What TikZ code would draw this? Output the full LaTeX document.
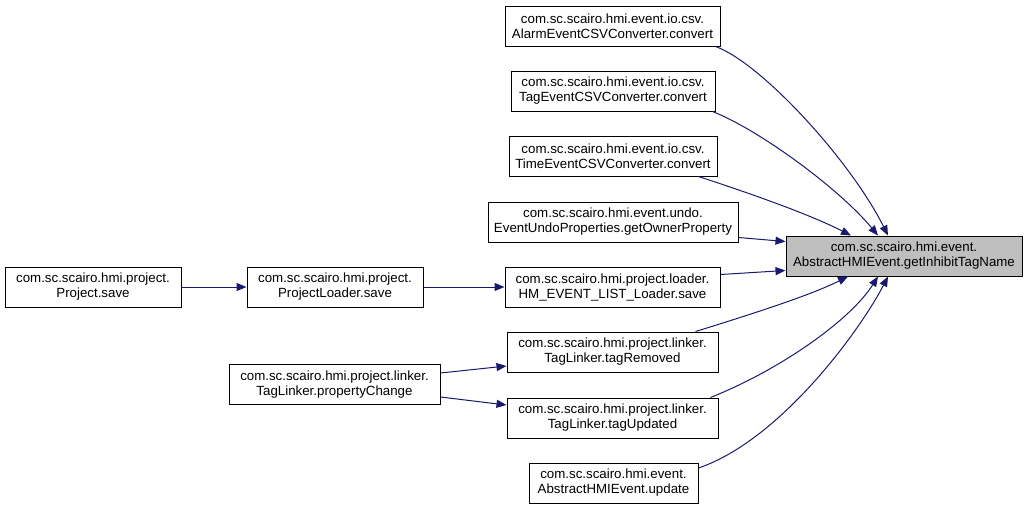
\documentclass[tikz,border=0pt]{standalone}
\usepackage{fontspec}
\setmainfont{Liberation Sans}
\usetikzlibrary{arrows.meta}
\definecolor{edgeblue}{HTML}{191970}
\definecolor{targetgray}{HTML}{BFBFBF}
\tikzset{
  fnbox/.style={draw=black, line width=1pt, fill=white, align=center, inner sep=0pt,
    minimum height=40pt, font=\fontsize{13.3}{15}\selectfont},
  focusbox/.style={fnbox, fill=targetgray},
  calledge/.style={draw=edgeblue, line width=1pt, -{Triangle[length=10pt,width=8pt]}}
}
\begin{document}
\begin{tikzpicture}[x=1pt,y=-1pt]
\useasboundingbox (0,0) rectangle (1029,509);
\node[focusbox, minimum width=236pt] (target) at (904,256) {com.sc.scairo.hmi.event.\\AbstractHMIEvent.getInhibitTagName};
\node[fnbox, minimum width=215pt] (alarm) at (612.5,26) {com.sc.scairo.hmi.event.io.csv.\\AlarmEventCSVConverter.convert};
\node[fnbox, minimum width=204pt] (tagcsv) at (613,91) {com.sc.scairo.hmi.event.io.csv.\\TagEventCSVConverter.convert};
\node[fnbox, minimum width=208pt] (timecsv) at (613,156) {com.sc.scairo.hmi.event.io.csv.\\TimeEventCSVConverter.convert};
\node[fnbox, minimum width=250pt] (undo) at (613,222) {com.sc.scairo.hmi.event.undo.\\EventUndoProperties.getOwnerProperty};
\node[fnbox, minimum width=215pt] (hm) at (612.5,287) {com.sc.scairo.hmi.project.loader.\\HM\_EVENT\_LIST\_Loader.save};
\node[fnbox, minimum width=211pt] (removed) at (612.5,352) {com.sc.scairo.hmi.project.linker.\\TagLinker.tagRemoved};
\node[fnbox, minimum width=211pt] (updated) at (612.5,418) {com.sc.scairo.hmi.project.linker.\\TagLinker.tagUpdated};
\node[fnbox, minimum width=169pt] (update) at (613.5,483) {com.sc.scairo.hmi.event.\\AbstractHMIEvent.update};
\node[fnbox, minimum width=176pt] (project) at (93,287) {com.sc.scairo.hmi.project.\\Project.save};
\node[fnbox, minimum width=176pt] (loader) at (335,287) {com.sc.scairo.hmi.project.\\ProjectLoader.save};
\node[fnbox, minimum width=211pt] (propchange) at (334.5,384.5) {com.sc.scairo.hmi.project.linker.\\TagLinker.propertyChange};

\draw[calledge] ([xshift=-5pt]alarm.south east) .. controls +(45,16) and +(-38,-76) .. ([xshift=-16pt]target.north);
\draw[calledge] ([xshift=-3pt]tagcsv.south east) .. controls +(48,19) and +(-38,-46) .. ([xshift=-26pt]target.north);
\draw[calledge] ([xshift=-19pt]timecsv.south east) .. controls +(52,17) and +(-41,-21) .. ([xshift=-53pt]target.north);
\draw[calledge] ([yshift=5pt]undo.south east) -- ([yshift=-6pt]target.north west);
\draw[calledge] ([yshift=-8pt]hm.north east) -- ([yshift=6pt]target.south west);
\draw[calledge] ([xshift=-23pt]removed.north east) .. controls +(55,-17) and +(-38,19) .. ([xshift=-56pt]target.south);
\draw[calledge] ([xshift=-8pt]updated.north east) .. controls +(70,-28) and +(-28,44) .. ([xshift=-26pt]target.south);
\draw[calledge] ([yshift=15pt]update.east) .. controls +(82,-28) and +(-28,54) .. ([xshift=-16pt]target.south);
\draw[calledge] (project.east) -- (loader.west);
\draw[calledge] (loader.east) -- (hm.west);
\draw[calledge] ([yshift=11.5pt]propchange.east) -- ([yshift=-14pt]removed.west);
\draw[calledge] ([yshift=-12.5pt]propchange.east) -- ([yshift=13pt]updated.west);
\end{tikzpicture}
\end{document}
